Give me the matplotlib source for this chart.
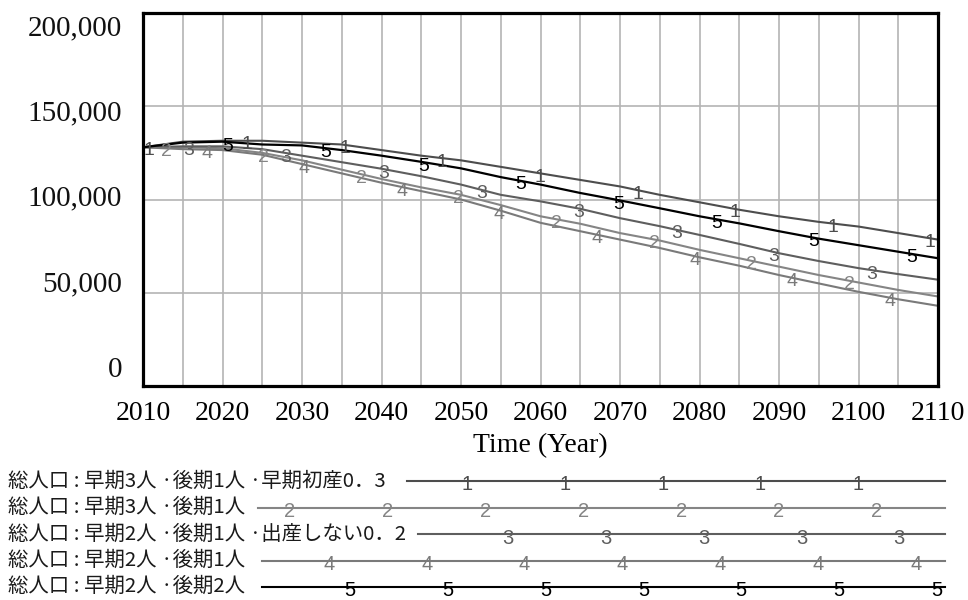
import numpy as np
import matplotlib
matplotlib.use("Agg")
import matplotlib.pyplot as plt
import matplotlib.transforms as mtransforms

# ---- data -------------------------------------------------------------
years = np.arange(2010, 2111, 5)

pop_1 = [128000, 131000, 131500, 131500, 130500, 129500, 126500, 123500, 121000, 117500,
         114000, 110500, 107000, 102500, 98500, 94500, 91000, 88000, 85500, 82000, 78500]
pop_2 = [128000, 128000, 127500, 125000, 121000, 116000, 111000, 106500, 102500, 97000,
         91000, 87000, 82000, 78000, 73000, 68500, 64000, 59500, 55500, 51500, 48000]
pop_3 = [128000, 128500, 128500, 127000, 123500, 120000, 116500, 112500, 108000, 102500,
         99000, 95000, 90000, 85700, 81000, 76200, 71200, 67000, 63200, 60000, 57000]
pop_4 = [128000, 127000, 126500, 124000, 119000, 114000, 109000, 104500, 100000, 94000,
         87500, 83000, 78500, 74000, 69000, 64500, 59500, 55000, 50500, 46500, 43000]
pop_5 = [128000, 130500, 131000, 129500, 129000, 126500, 123500, 120200, 116700, 112000,
         108000, 103500, 99500, 95300, 91000, 87200, 83000, 79000, 75500, 72000, 68500]

series = [pop_1, pop_2, pop_3, pop_4, pop_5]
series_ids = ["1", "2", "3", "4", "5"]
series_names = [
    "総人口 : 早期3人 ·後期1人 ·早期初産0．3",
    "総人口 : 早期3人 ·後期1人",
    "総人口 : 早期2人 ·後期1人 ·出産しない0．2",
    "総人口 : 早期2人 ·後期1人",
    "総人口 : 早期2人 ·後期2人",
]

y_ticks = [0, 50000, 100000, 150000, 200000]
y_tick_labels = ["0", "50,000", "100,000", "150,000", "200,000"]
x_ticks = list(range(2010, 2111, 10))
x_tick_labels = [str(v) for v in x_ticks]
x_title = "Time (Year)"

# ---- style ------------------------------------------------------------
colors = ["#4d4d4d", "#858585", "#5e5e5e", "#7a7a7a", "#000000"]
line_widths = [1.5, 1.5, 1.5, 1.5, 1.6]
marker_start = [2010.8, 2012.9, 2015.7, 2018.0, 2020.7]   # first id label (year)
marker_step = 12.28                                          # years between id labels
legend_line_start = [407, 258, 418, 262, 262]                # px
legend_first_marker = [467, 290, 508, 329, 350]              # px
legend_marker_step = 97.8
legend_rows = [481, 507.5, 534, 560.5, 586.5]
legend_line_end = 945

serif = "Liberation Serif"
sans = "Liberation Sans"
cjk = ["Noto Sans CJK JP", "DejaVu Sans"]

W, H = 968, 600
fig = plt.figure(figsize=(W / 100, H / 100), dpi=100)
ax = fig.add_axes([143 / W, (H - 386) / H, (938 - 143) / W, (386 - 13) / H])

ax.set_xlim(2010, 2110)
ax.set_ylim(0, 200000)

# grid
for xv in range(2015, 2110, 5):
    ax.axvline(xv, color="#b4b4b4", lw=1.2, zorder=1)
for yv in y_ticks[1:-1]:
    ax.axhline(yv, color="#b4b4b4", lw=1.2, zorder=1)

# series lines with id labels along each curve
for vals, sid, col, lw, m0 in zip(series, series_ids, colors, line_widths, marker_start):
    ax.plot(years, vals, color=col, lw=lw, zorder=3)
    mx = np.arange(m0, 2110.01, marker_step)
    my = np.interp(mx, years, vals)
    off = mtransforms.offset_copy(ax.transData, fig=fig, x=0, y=-4, units="dots")
    for xx, yy in zip(mx, my):
        ax.text(xx, yy, sid, color=col, fontsize=14, family=sans,
                ha="center", va="center", transform=off, zorder=4)

# frame
for sp in ax.spines.values():
    sp.set_linewidth(2.3)
    sp.set_color("black")
    sp.set_zorder(5)

# x ticks
ax.set_xticks(x_ticks)
ax.set_xticklabels(x_tick_labels, fontfamily=serif, fontsize=20)
ax.tick_params(axis="x", length=0, pad=11)
ax.set_xlabel(x_title, fontfamily=serif, fontsize=20, labelpad=5)

# y ticks: labels are spread evenly beside the axis
ax.set_yticks(y_ticks)
ax.set_yticklabels([])
ax.tick_params(axis="y", length=0)
label_shift_px = [16, 8, 1, -7, -15]
ytrans = ax.get_yaxis_transform()
for v, lab, dy in zip(y_ticks, y_tick_labels, label_shift_px):
    tr = mtransforms.offset_copy(ytrans, fig=fig, x=-21, y=dy, units="dots")
    ax.text(0, v, lab, transform=tr, ha="right", va="center",
            fontfamily=serif, fontsize=21, color="#111111")

# ---- legend -------------------------------------------------------------
lg = fig.add_axes([0, 0, 1, 1], zorder=-1)
lg.set_xlim(0, W)
lg.set_ylim(H, 0)
lg.axis("off")
for name, sid, col, y, x0, xm in zip(series_names, series_ids, colors, legend_rows,
                                     legend_line_start, legend_first_marker):
    lg.text(8, y, name, family=cjk, fontsize=14.7, ha="left", va="center", color="#1a1a1a")
    lg.plot([x0, legend_line_end], [y, y], color=col, lw=1.5)
    for xx in np.arange(xm, legend_line_end + 1, legend_marker_step):
        lg.text(xx, y + 4, sid, color=col, fontsize=14.5, family=sans,
                ha="center", va="center")

fig.savefig("out.png", dpi=100)
